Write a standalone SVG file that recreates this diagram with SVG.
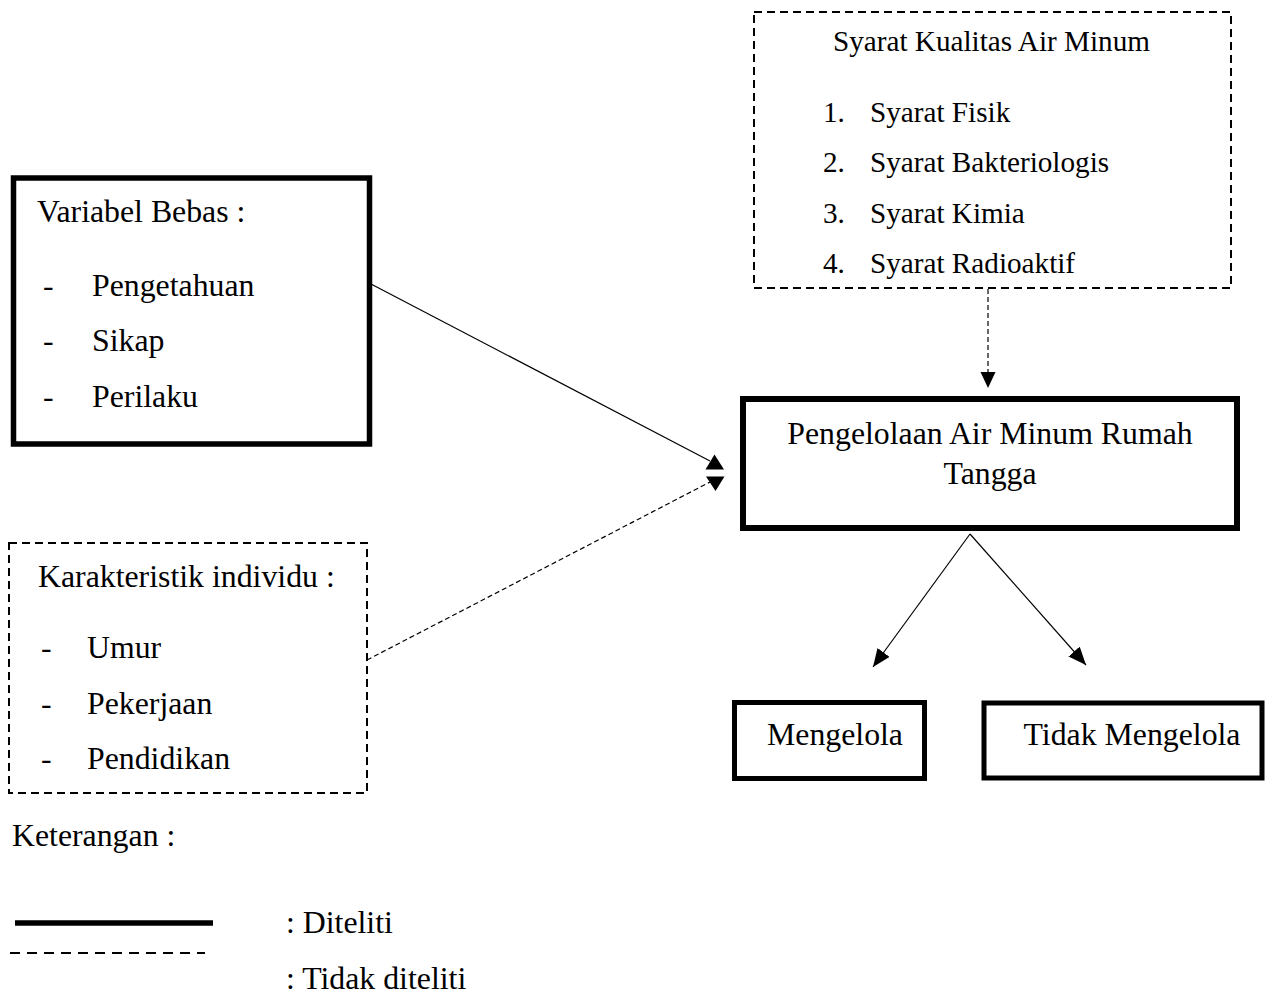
<svg xmlns="http://www.w3.org/2000/svg" width="1265" height="995" viewBox="0 0 1265 995">
<style>
text{font-family:"Liberation Serif","Times New Roman",serif;fill:#000;font-size:31.8px}
.s{font-size:29.2px}
.thick{fill:#fff;stroke:#000;stroke-width:5.5}
.dash{fill:#fff;stroke:#000;stroke-width:2;stroke-dasharray:8,5}
.ln{stroke:#000;stroke-width:1.2;fill:none}
.dl{stroke:#000;stroke-width:1.2;fill:none;stroke-dasharray:5,3}
.c{text-anchor:middle}
</style>
<defs>
<marker id="ah" viewBox="0 0 18 15" refX="18" refY="7.5" markerWidth="18" markerHeight="15" markerUnits="userSpaceOnUse" orient="auto">
<path d="M0,0 L18,7.5 L0,15 Z" fill="#000"/>
</marker>
</defs>
<rect width="1265" height="995" fill="#fff"/>

<g id="syarat">
<rect class="dash" x="754" y="12" width="477" height="276"/>
<text class="s" x="833" y="51">Syarat Kualitas Air Minum</text>
<text class="s" x="823" y="122">1.</text><text class="s" x="870" y="122">Syarat Fisik</text>
<text class="s" x="823" y="172">2.</text><text class="s" x="870" y="172">Syarat Bakteriologis</text>
<text class="s" x="823" y="223">3.</text><text class="s" x="870" y="223">Syarat Kimia</text>
<text class="s" x="823" y="273">4.</text><text class="s" x="870" y="273">Syarat Radioaktif</text>
</g>

<g id="variabel">
<rect class="thick" x="13.5" y="178" width="356" height="266"/>
<text x="37" y="222">Variabel Bebas :</text>
<text x="43" y="296">-</text><text x="92" y="296">Pengetahuan</text>
<text x="43" y="351">-</text><text x="92" y="351">Sikap</text>
<text x="43" y="407">-</text><text x="92" y="407">Perilaku</text>
</g>

<g id="karakteristik">
<rect class="dash" x="9" y="543" width="358" height="250"/>
<text x="38" y="587">Karakteristik individu :</text>
<text x="41" y="658">-</text><text x="87" y="658">Umur</text>
<text x="41" y="714">-</text><text x="87" y="714">Pekerjaan</text>
<text x="41" y="769">-</text><text x="87" y="769">Pendidikan</text>
</g>

<g id="pengelolaan">
<rect class="thick" x="743" y="399" width="494" height="129" style="stroke-width:6"/>
<text class="c" x="990" y="444">Pengelolaan Air Minum Rumah</text>
<text class="c" x="990" y="484">Tangga</text>
</g>

<g id="mengelola">
<rect class="thick" x="734.5" y="702.5" width="190" height="76" style="stroke-width:5"/>
<text class="c" x="835" y="745">Mengelola</text>
</g>

<g id="tidak-mengelola">
<rect class="thick" x="984" y="703" width="278" height="75" style="stroke-width:5"/>
<text class="c" x="1132" y="745">Tidak Mengelola</text>
</g>

<g id="connectors">
<line class="ln" x1="371" y1="284" x2="710" y2="461"/>
<polygon points="714.5,454.5 724,469.5 705.5,469.5" fill="#000"/>
<line class="dl" x1="367" y1="660" x2="710" y2="482"/>
<polygon points="706,476.5 724.5,476.5 715.5,491" fill="#000"/>
<line class="dl" x1="988" y1="289" x2="988" y2="373"/>
<polygon points="980.5,372 995.5,372 988,388" fill="#000"/>
<line class="ln" x1="970" y1="534" x2="873" y2="667" marker-end="url(#ah)"/>
<line class="ln" x1="970" y1="534" x2="1086" y2="665" marker-end="url(#ah)"/>
</g>

<g id="legend">
<text x="12" y="846">Keterangan :</text>
<line x1="15" y1="923" x2="213" y2="923" stroke="#000" stroke-width="5.5"/>
<line x1="10" y1="953" x2="205" y2="953" stroke="#000" stroke-width="2.2" stroke-dasharray="10,7"/>
<text x="286" y="933">: Diteliti</text>
<text x="286" y="989">: Tidak diteliti</text>
</g>
</svg>
